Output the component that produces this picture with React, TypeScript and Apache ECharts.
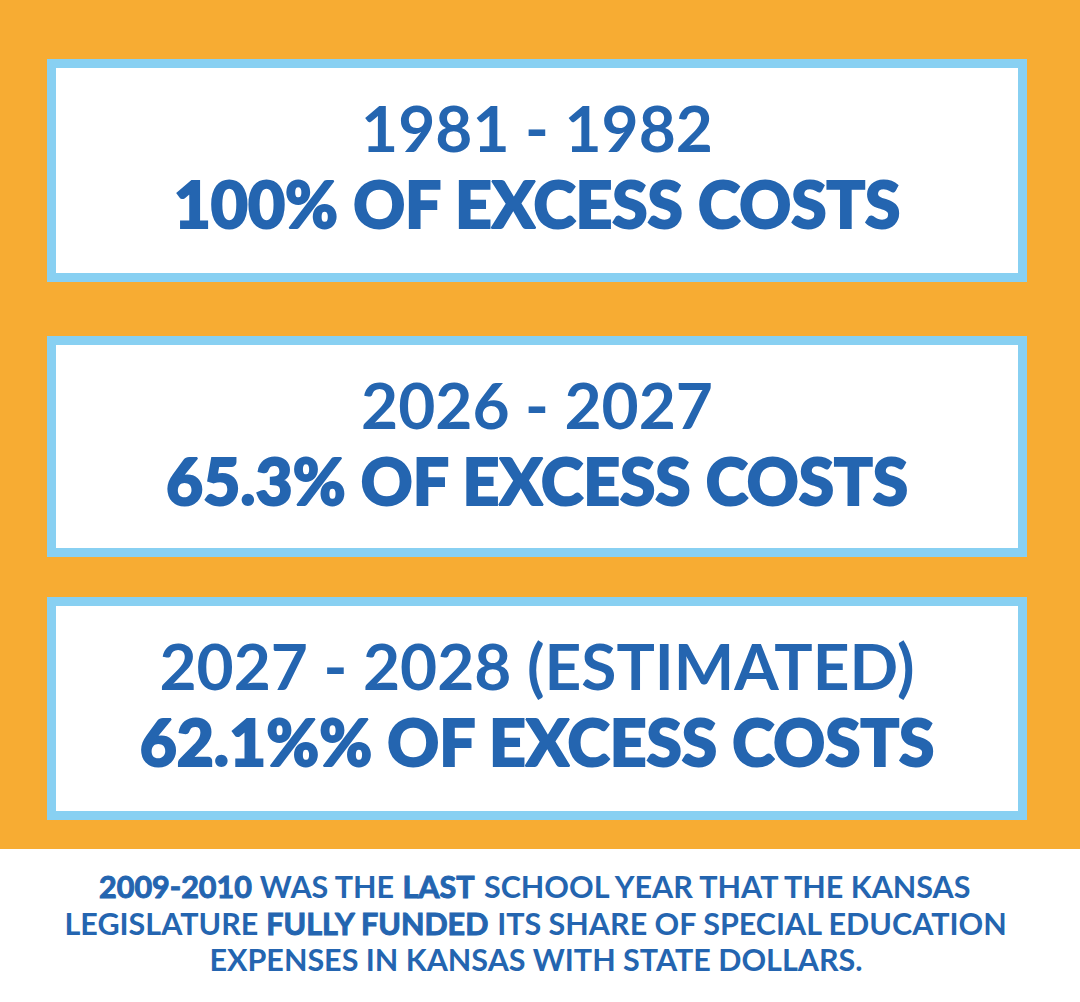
import React, { useEffect, useRef } from "react";
import * as echarts from "echarts";

// ---- data ----
const periods: string[] = ["1981 - 1982", "2026 - 2027", "2027 - 2028 (ESTIMATED)"];
const shareValues: number[] = [100, 65.3, 62.1];
const shareSuffixes: string[] = ["% OF EXCESS COSTS", "% OF EXCESS COSTS", "%% OF EXCESS COSTS"];
const footerLines: string[] = [
  "{b|2009-2010 }WAS THE {b|LAST }SCHOOL YEAR THAT THE KANSAS",
  "LEGISLATURE {b|FULLY FUNDED }ITS SHARE OF SPECIAL EDUCATION",
  "EXPENSES IN KANSAS WITH STATE DOLLARS.",
];

// ---- layout / style ----
const W = 1080;
const H = 1002;
const ORANGE = "#f7ac33";
const LIGHT_BLUE = "#88d0f2";
const BLUE = "#2465b0";
const FONT = "Lato, 'Noto Sans', sans-serif";
const boxTops = [59, 336, 597];
const boxHeights = [223, 221, 223];
const boxLeft = 47;
const boxWidth = 980;
const border = 9;

export default function App() {
  const ref = useRef<HTMLDivElement>(null);
  useEffect(() => {
    if (!ref.current) return;
    const chart = echarts.init(ref.current, undefined, { renderer: "svg", width: W, height: H });
    const elements: any[] = [
      { type: "rect", shape: { x: 0, y: 0, width: W, height: 849 }, style: { fill: ORANGE } },
    ];
    periods.forEach((p, i) => {
      const top = boxTops[i];
      const h = boxHeights[i];
      elements.push({
        type: "rect",
        shape: { x: boxLeft + border / 2, y: top + border / 2, width: boxWidth - border, height: h - border },
        style: { fill: "#ffffff", stroke: LIGHT_BLUE, lineWidth: border },
      });
      elements.push({
        type: "text",
        x: boxLeft + boxWidth / 2,
        y: top + 68,
        style: {
          text: p,
          fontSize: 64,
          fontFamily: FONT,
          fontWeight: 700,
          fill: BLUE,
          align: "center",
          verticalAlign: "middle",
        },
      });
      elements.push({
        type: "text",
        x: boxLeft + boxWidth / 2,
        y: top + 144,
        style: {
          text: `${shareValues[i]}${shareSuffixes[i]}`,
          fontSize: 64,
          fontFamily: FONT,
          fontWeight: 900,
          fill: BLUE,
          stroke: BLUE,
          lineWidth: 2,
          align: "center",
          verticalAlign: "middle",
        },
      });
    });
    const footerY = [886, 922.5, 959];
    footerLines.forEach((line, i) => {
      elements.push({
        type: "text",
        x: 536,
        y: footerY[i],
        style: {
          text: line,
          fontSize: 30.5,
          fontFamily: FONT,
          fontWeight: 700,
          fill: BLUE,
          align: "center",
          verticalAlign: "middle",
          rich: {
            b: { fontSize: 30.5, fontFamily: FONT, fontWeight: 700, fill: BLUE, stroke: BLUE, lineWidth: 1 },
          },
        },
      });
    });
    chart.setOption({
      animation: false,
      backgroundColor: "#ffffff",
      graphic: { elements },
    });
    return () => chart.dispose();
  }, []);
  return (
    <div
      ref={ref}
      style={{ position: "fixed", left: 0, top: 0, width: W, height: H, background: "#ffffff" }}
    />
  );
}
